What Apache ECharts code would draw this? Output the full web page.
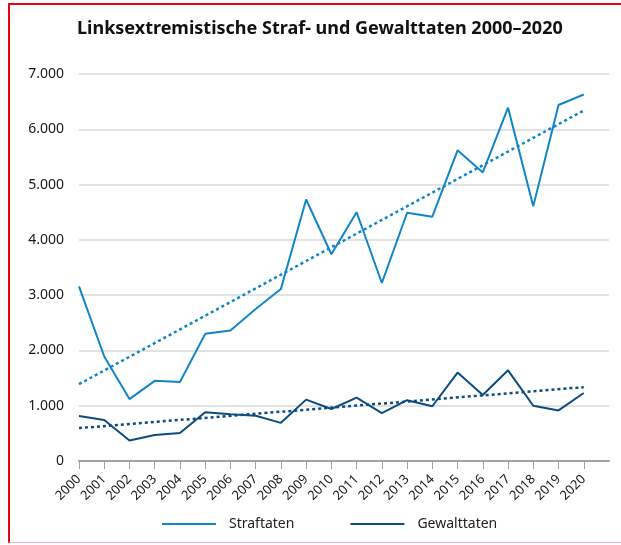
<!DOCTYPE html>
<html>
<head>
<meta charset="utf-8">
<script src="https://cdn.jsdelivr.net/npm/echarts@6/dist/echarts.min.js"></script>
<style>
  html, body { margin: 0; padding: 0; background: #fff; }
  #chart { position: absolute; left: 0; top: 0; width: 621px; height: 545px; }
  #frame {
    position: absolute; left: 8px; top: 3px; width: 613px; height: 540px;
    border-left: 2px solid #e30613; border-top: 2px solid #e30613;
    border-bottom: 1px solid #f3b4bb; box-sizing: border-box; pointer-events: none;
  }
</style>
</head>
<body>
<div id="chart"></div>
<div id="frame"></div>
<script>
const years = ['2000', '2001', '2002', '2003', '2004', '2005', '2006', '2007', '2008', '2009', '2010',
  '2011', '2012', '2013', '2014', '2015', '2016', '2017', '2018', '2019', '2020'];

const straftaten = [3160, 1890, 1120, 1450, 1430, 2300, 2360, 2750, 3110, 4730, 3740,
  4500, 3220, 4490, 4420, 5620, 5220, 6390, 4610, 6440, 6630];

const gewalttaten = [815, 740, 370, 470, 505, 880, 845, 820, 690, 1110, 940,
  1145, 865, 1100, 990, 1600, 1195, 1640, 1000, 915, 1230];

// trend line end points (2000, 2020)
const straftatenTrend = [1390, 6340];
const gewalttatenTrend = [595, 1335];

const yTickLabels = ['0', '1.000', '2.000', '3.000', '4.000', '5.000', '6.000', '7.000'];

const lightBlue = '#0f86c8';
const darkBlue = '#0c4d7e';
const font = 'Noto Sans';

// one blank slot after 2020 so the axis line runs on past the last tick
const axisCats = years.concat(['']);

function trendLine(ends, color) {
  return {
    silent: true,
    symbol: ['none', 'none'],
    label: { show: false },
    lineStyle: { color: color, type: [3, 3], width: 2.5 },
    data: [[
      { coord: [years[0], ends[0]] },
      { coord: [years[years.length - 1], ends[1]] }
    ]]
  };
}

const chart = echarts.init(document.getElementById('chart'));
chart.setOption({
  animation: false,
  textStyle: { fontFamily: font },
  title: {
    text: 'Linksextremistische Straf- und Gewalttaten 2000–2020',
    left: 72,
    top: 15,
    textStyle: { fontFamily: font, fontSize: 18, fontWeight: 'bold', color: '#111' }
  },
  legend: {
    data: [
      { name: 'Straftaten', icon: 'rect' },
      { name: 'Gewalttaten', icon: 'rect' }
    ],
    bottom: 9,
    left: 157,
    itemWidth: 54,
    itemHeight: 2,
    itemGap: 56,
    textStyle: { fontFamily: font, fontSize: 14, color: '#222', padding: [0, 0, 0, 8] }
  },
  grid: { left: 79, right: 12, top: 74, bottom: 84, containLabel: false },
  xAxis: {
    type: 'category',
    data: axisCats,
    boundaryGap: false,
    axisLine: { lineStyle: { color: '#a3a3a3', width: 2 } },
    axisTick: {
      length: 8,
      interval: (i) => i < years.length,
      lineStyle: { color: '#a3a3a3', width: 1 }
    },
    axisLabel: {
      rotate: 45,
      interval: 0,
      margin: 16,
      fontSize: 13,
      color: '#1a1a1a'
    },
    splitLine: { show: false }
  },
  yAxis: {
    type: 'value',
    min: 0,
    max: 7000,
    interval: 1000,
    axisLine: { show: false },
    axisTick: { show: false },
    axisLabel: {
      margin: 15,
      fontSize: 14,
      color: '#1a1a1a',
      formatter: (v) => yTickLabels[Math.round(v / 1000)]
    },
    splitLine: { lineStyle: { color: '#d9d9d9', width: 1.5 } }
  },
  series: [
    {
      name: 'Straftaten',
      type: 'line',
      data: straftaten,
      symbol: 'none',
      lineStyle: { color: lightBlue, width: 2 },
      itemStyle: { color: lightBlue },
      markLine: trendLine(straftatenTrend, lightBlue),
      z: 3
    },
    {
      name: 'Gewalttaten',
      type: 'line',
      data: gewalttaten,
      symbol: 'none',
      lineStyle: { color: darkBlue, width: 2 },
      itemStyle: { color: darkBlue },
      markLine: trendLine(gewalttatenTrend, darkBlue),
      z: 3
    }
  ]
});
</script>
</body>
</html>
